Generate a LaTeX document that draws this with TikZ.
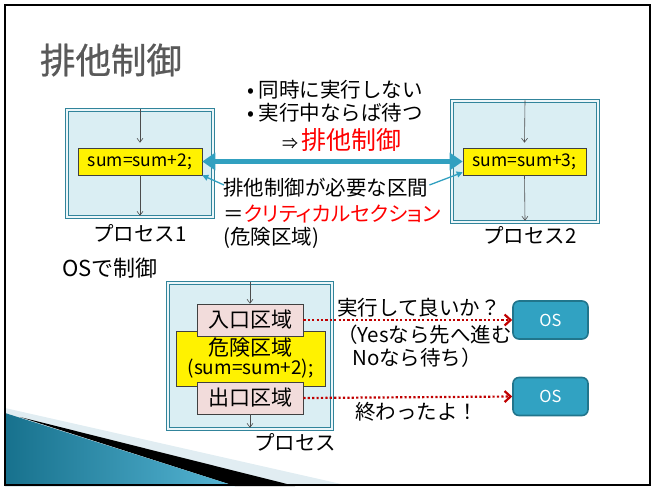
\documentclass[tikz,border=0pt]{standalone}
\usepackage{fontspec}
\setmainfont{Noto Sans CJK JP}
\newfontfamily\titlefont[FakeBold=0.7]{Noto Sans CJK JP}
\newfontfamily\paltfont[RawFeature=+palt]{Noto Sans CJK JP}
\usetikzlibrary{arrows.meta,calc}
\definecolor{teal1}{HTML}{31849B}
\definecolor{boxfill}{HTML}{DAEEF3}
\definecolor{arrowteal}{HTML}{31A0C0}
\definecolor{pinkfill}{HTML}{F2DCDB}
\definecolor{osfill}{HTML}{31A2C2}
\definecolor{osdraw}{HTML}{21758C}
\definecolor{dred}{HTML}{C00000}
\definecolor{titlegray}{HTML}{595959}
\definecolor{decolight}{HTML}{E1EDF2}
\definecolor{decodark}{HTML}{17718D}
\definecolor{decobright}{HTML}{56B6D5}
\tikzset{
  procbox/.style={draw=teal1, line width=1.5pt, double=white!50!boxfill, double distance=1.3pt, fill=boxfill, inner sep=0pt},
  codebox/.style={draw=black!75, line width=0.6pt, fill=yellow, inner sep=0pt, font=\fontsize{17.5}{20}\selectfont},
  zonebox/.style={draw=black!75, line width=0.6pt, fill=pinkfill, inner sep=0pt, font=\fontsize{21}{24}\selectfont},
  osbox/.style={draw=osdraw, line width=1.6pt, fill=osfill, rounded corners=6pt, inner sep=0pt, text=white, font=\fontsize{16.5}{19}\selectfont},
  txt/.style={inner sep=0pt, anchor=west, font=\fontsize{20.5}{24}\selectfont},
  lbl/.style={inner sep=0pt, font=\fontsize{20.5}{24}\selectfont},
  smallarrow/.style={draw=black!70, line width=0.6pt, -{Straight Barb[length=4pt,width=6pt]}},
  bigarrow/.style={draw=arrowteal, line width=5pt, {Triangle[length=13pt,width=17pt]}-{Triangle[length=13pt,width=17pt]}},
  thinarrow/.style={draw=arrowteal, line width=1.3pt, -{Triangle[length=6pt,width=6pt]}},
  dotarrow/.style={draw=dred, line width=2.2pt, dash pattern=on 2.2pt off 2.2pt, -{Straight Barb[length=6pt,width=11pt]}}
}
\begin{document}
\begin{tikzpicture}[x=1pt,y=-1pt]
\useasboundingbox (0,0) rectangle (652,488);
% bottom-left decoration
\fill[decolight] (5,408) -- (350,486) -- (5,486) -- cycle;
\fill[black] (20,417) -- (295,486) -- (235,486) -- cycle;
\shade[left color=decodark, right color=decobright] (5,413) -- (235,486) -- (5,486) -- cycle;
% title
\node[inner sep=0pt, text=titlegray, font=\titlefont\fontsize{35.5}{40}\selectfont] (title) at (111,60) {排他制御};
% bullets
\node[txt] (b1) at (247,90) {• 同時に実行しない};
\node[txt] (b2) at (247,113) {• 実行中ならば待つ};
\node[txt] (b3) at (282,140) {{\fontsize{16}{20}\selectfont ⇒}\,{\fontsize{25}{28}\selectfont\color{red}排他制御}};
% process 1
\node[procbox, minimum width=146pt, minimum height=107pt] (p1) at (140,163.5) {};
\node[codebox, minimum width=124pt, minimum height=27pt] (y1) at (140,161.5) {sum=sum+2;};
\draw[smallarrow] (p1.north) -- ($(y1.north)+(0,-5)$);
\draw[smallarrow] (y1.south) -- ($(p1.south)+(0,-2)$);
\node[lbl] (l1) at (140,233) {プロセス1};
% process 2
\node[procbox, minimum width=146pt, minimum height=121pt] (p2) at (525,161.5) {};
\node[codebox, minimum width=123pt, minimum height=27pt] (y2) at (524.5,161.5) {sum=sum+3;};
\draw[smallarrow] (p2.north) -- ($(y2.north)+(0,-5)$);
\draw[smallarrow] (y2.south) -- ($(p2.south)+(0,-2)$);
\node[lbl] (l2) at (530,235) {プロセス2};
% mutual exclusion arrow
\draw[bigarrow] (y1.east) -- (y2.west);
% critical section text
\node[txt] (c1) at (223,188) {排他制御が必要な区間};
\node[txt, font=\paltfont\fontsize{20.5}{24}\selectfont] (c2) at (223,214) {＝{\color{red}クリティカルセクション}};
\node[txt] (c3) at (223,238) {(危険区域)};
\draw[thinarrow] ($(c1.west)+(1,-3)$) -- (y1.south east);
\draw[thinarrow] ($(c1.east)+(1,-3)$) -- ($(y2.south west)+(0,-3)$);
% OS control
\node[txt, font=\fontsize{22}{26}\selectfont] (osc) at (62,268) {OSで制御};
\node[procbox, minimum width=164pt, minimum height=146pt] (pb) at (250,356) {};
\node[codebox, minimum width=149pt, minimum height=55pt, align=center] (crit) at (250.5,358.5) {{\fontsize{21}{22}\selectfont 危険区域}\\[-1pt]{\fontsize{19}{19}\selectfont (sum=sum+2);}};
\node[zonebox, minimum width=106pt, minimum height=32pt] (entry) at (250,320) {入口区域};
\node[zonebox, minimum width=106pt, minimum height=32pt] (exit) at (250,398) {出口区域};
\draw[smallarrow] (pb.north) -- (entry.north);
\draw[smallarrow] (exit.south) -- ($(pb.south)+(0,-2)$);
\node[lbl] (lp) at (295,442) {プロセス};
\node[osbox, minimum width=75pt, minimum height=38pt] (os1) at (550.5,320) {OS};
\node[osbox, minimum width=75pt, minimum height=38pt] (os2) at (550.5,396.5) {OS};
\draw[dotarrow] (entry.east) -- (os1.west);
\draw[dotarrow] (exit.east) -- (os2.west);
\node[txt] (q1) at (337,308) {実行して良いか？};
\node[txt] (q2) at (337,335) {（Yesなら先へ進む};
\node[txt] (q3) at (352,358) {Noなら待ち）};
\node[txt] (q4) at (355,412) {終わったよ！};
% frame
\draw[line width=2pt] (5,5) rectangle (650,485);
\end{tikzpicture}
\end{document}
